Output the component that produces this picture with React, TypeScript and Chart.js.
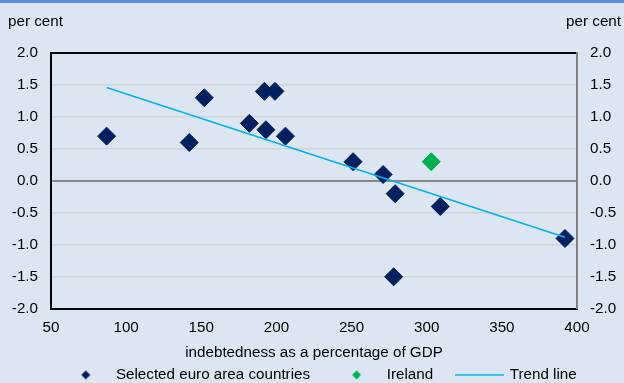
import React, { useEffect, useRef } from "react";
import { Chart, registerables } from "chart.js";

Chart.register(...registerables);

// ---- data ----
const euroDebt = [87, 142, 152, 182, 192, 199, 193, 206, 251, 271, 279, 309, 392, 278];
const euroGrowth = [0.7, 0.6, 1.3, 0.9, 1.4, 1.4, 0.8, 0.7, 0.3, 0.1, -0.2, -0.4, -0.9, -1.5];
const irelandDebt = [303];
const irelandGrowth = [0.3];
const trendDebt = [87, 392];
const trendGrowth = [1.46, -0.88];

const xMin = 50;
const xMax = 400;
const xStep = 50;
const yMin = -2;
const yMax = 2;
const yStep = 0.5;

const seriesNames = ["Selected euro area countries", "Ireland", "Trend line"];
const xAxisTitle = "indebtedness as a percentage of GDP";
const unitLabel = "per cent";

// ---- styles ----
const FONT = "'Liberation Sans', Arial, Helvetica, sans-serif";
const FONT_SIZE = 15.2;
const BG = "#dce6f2";
const TOP_BAR = "#558ed5";
const NAVY = "#002060";
const GREEN = "#00b050";
const CYAN = "#00b0f0";

function diamondImage(color: string, half: number) {
  const s = Math.ceil(half * 2) + 2;
  const c = document.createElement("canvas");
  c.width = s;
  c.height = s;
  const g = c.getContext("2d")!;
  const m = s / 2;
  g.fillStyle = color;
  g.beginPath();
  g.moveTo(m - half, m);
  g.lineTo(m, m - half);
  g.lineTo(m + half, m);
  g.lineTo(m, m + half);
  g.closePath();
  g.fill();
  return c;
}

function lineImage(color: string, len: number, w: number) {
  const c = document.createElement("canvas");
  c.width = len;
  c.height = 4;
  const g = c.getContext("2d")!;
  g.strokeStyle = color;
  g.lineWidth = w;
  g.beginPath();
  g.moveTo(0, 2);
  g.lineTo(len, 2);
  g.stroke();
  return c;
}

const decorPlugin = {
  id: "decor",
  beforeDraw(chart: any) {
    const { ctx, width, height } = chart;
    ctx.save();
    ctx.fillStyle = BG;
    ctx.fillRect(0, 0, width, height);
    ctx.fillStyle = TOP_BAR;
    ctx.fillRect(0, 0, width, 3);
    ctx.restore();
  },
  afterDraw(chart: any) {
    const { ctx, width } = chart;
    ctx.save();
    ctx.font = `${FONT_SIZE}px ${FONT}`;
    ctx.fillStyle = "#000";
    ctx.textBaseline = "middle";
    ctx.textAlign = "left";
    ctx.fillText(unitLabel, 8, 22);
    ctx.textAlign = "right";
    ctx.fillText(unitLabel, width - 3, 22);
    ctx.restore();
  },
};

export default function App() {
  const ref = useRef<HTMLCanvasElement>(null);

  useEffect(() => {
    if (!ref.current) return;
    Chart.defaults.font.family = FONT;
    Chart.defaults.font.size = FONT_SIZE;
    Chart.defaults.color = "#000";

    const legendImages = [
      diamondImage(NAVY, 4.5),
      diamondImage(GREEN, 4.5),
      lineImage(CYAN, 49, 1.5),
    ];
    const legendDatasetIdx = [1, 2, 0];

    const euroPts = euroDebt.map((x, i) => ({ x, y: euroGrowth[i] }));
    const irePts = irelandDebt.map((x, i) => ({ x, y: irelandGrowth[i] }));
    const trendPts = trendDebt.map((x, i) => ({ x, y: trendGrowth[i] }));

    const tickFmt = (v: any) => Number(v).toFixed(1);

    const chart = new Chart(ref.current, {
      type: "scatter",
      data: {
        datasets: [
          {
            label: seriesNames[2],
            data: trendPts,
            showLine: true,
            borderColor: CYAN,
            borderWidth: 1.5,
            pointRadius: 0,
            yAxisID: "y",
          },
          {
            label: seriesNames[0],
            data: euroPts,
            pointStyle: "rectRot",
            pointRadius: 9,
            backgroundColor: NAVY,
            borderColor: NAVY,
            borderWidth: 1,
            yAxisID: "y",
          },
          {
            label: seriesNames[1],
            data: irePts,
            pointStyle: "rectRot",
            pointRadius: 9,
            backgroundColor: GREEN,
            borderColor: GREEN,
            borderWidth: 1,
            yAxisID: "y",
          },
        ],
      },
      options: {
        animation: false,
        responsive: true,
        maintainAspectRatio: false,
        events: [],
        layout: { padding: { left: 8, right: -8, top: 53, bottom: -9.5 } },
        scales: {
          x: {
            type: "linear",
            position: "bottom",
            min: xMin,
            max: xMax,
            ticks: { stepSize: xStep, padding: 10, color: "#000", font: { size: FONT_SIZE } },
            grid: { display: false, drawTicks: false },
            border: { display: true, color: "#000", width: 2 },
            title: {
              display: true,
              text: xAxisTitle,
              color: "#000",
              font: { size: FONT_SIZE },
              padding: { top: 0, bottom: -18.6 },
            },
            afterFit: (scale: any) => {
              scale.height = 34.5;
            },
          },
          y: {
            type: "linear",
            position: "left",
            min: yMin,
            max: yMax,
            ticks: { stepSize: yStep, padding: 13, callback: tickFmt, color: "#000", font: { size: FONT_SIZE } },
            grid: {
              drawTicks: false,
              color: (c: any) => {
                const v = c.tick ? c.tick.value : null;
                if (v === 0) return "#878787";
                if (v === yMax) return "#000";
                return "#d1d3d6";
              },
              lineWidth: (c: any) => {
                const v = c.tick ? c.tick.value : null;
                if (v === 0 || v === yMax) return 2;
                return 1.5;
              },
            },
            border: { display: true, color: "#000", width: 2 },
            afterFit: (scale: any) => {
              scale.width = 43;
            },
          },
          y2: {
            type: "linear",
            position: "right",
            min: yMin,
            max: yMax,
            ticks: { stepSize: yStep, padding: 13, callback: tickFmt, color: "#000", font: { size: FONT_SIZE } },
            grid: { display: false, drawTicks: false },
            border: { display: true, color: "#808080", width: 2 },
            afterFit: (scale: any) => {
              scale.width = 55;
            },
          },
        },
        plugins: {
          tooltip: { enabled: false },
          title: { display: false },
          legend: {
            display: true,
            position: "bottom",
            labels: {
              usePointStyle: true,
              pointStyleWidth: 45,
              padding: 24,
              color: "#000",
              font: { size: FONT_SIZE },
              generateLabels: () =>
                seriesNames.map((name, i) => ({
                  text: name,
                  pointStyle: legendImages[i] as any,
                  fillStyle: "transparent",
                  strokeStyle: "transparent",
                  lineWidth: 0,
                  hidden: false,
                  datasetIndex: legendDatasetIdx[i],
                  fontColor: "#000",
                })),
            },
          },
        },
      },
      plugins: [decorPlugin],
    } as any);

    return () => chart.destroy();
  }, []);

  return (
    <div
      style={{
        position: "fixed",
        left: 0,
        top: 0,
        width: 624,
        height: 383,
        overflow: "hidden",
        background: BG,
      }}
    >
      <canvas ref={ref} />
    </div>
  );
}
